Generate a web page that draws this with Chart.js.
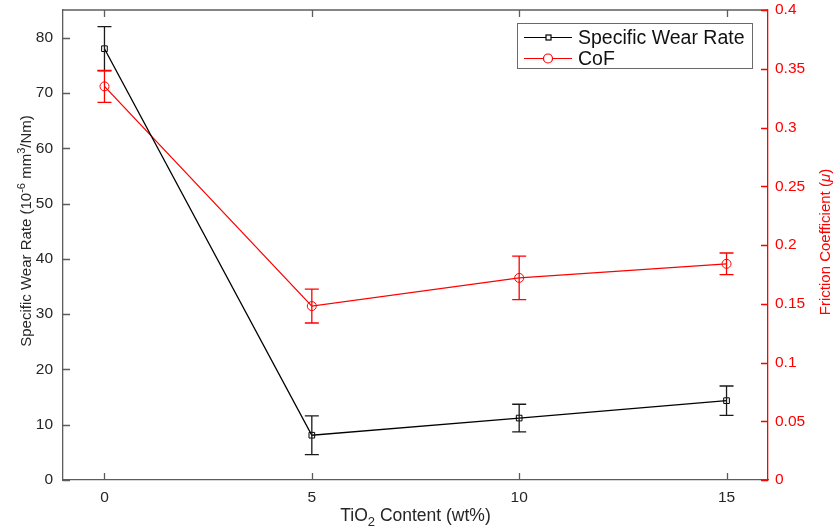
<!DOCTYPE html>
<html>
<head>
<meta charset="utf-8">
<script src="https://cdn.jsdelivr.net/npm/chart.js@4/dist/chart.umd.min.js"></script>
<style>
  html, body { margin: 0; padding: 0; background: #fff; }
  #wrap { width: 838px; height: 531px; position: relative; }
</style>
</head>
<body>
<div id="wrap"><canvas id="chart" width="838" height="531"></canvas></div>
<script>
// data
const tio2Content = [0, 5, 10, 15];
const wearRate = [78, 8.1, 11.2, 14.35];
const wearErr = [4, 3.5, 2.5, 2.65];
const cof = [0.335, 0.148, 0.172, 0.184];
const cofErr = [0.0137, 0.0144, 0.0185, 0.0092];

const xTicks = [0, 5, 10, 15];
const leftTicks = [0, 10, 20, 30, 40, 50, 60, 70, 80];
const rightTicks = [0, 0.05, 0.1, 0.15, 0.2, 0.25, 0.3, 0.35, 0.4];

const FONT = "'Liberation Sans', Arial, Helvetica, sans-serif";
const AXIS_GRAY = "#5c5c5c";
const RED = "#ff0000";

// 📏 error bars for both series
const errorBars = {
  id: "errorBars",
  afterDatasetsDraw(chart) {
    const ctx = chart.ctx;
    const x = chart.scales.x;
    const sets = [
      { vals: wearRate, errs: wearErr, scale: chart.scales.yL, color: "#1a1a1a" },
      { vals: cof, errs: cofErr, scale: chart.scales.yR, color: RED }
    ];
    ctx.save();
    ctx.lineWidth = 1.3;
    sets.forEach(s => {
      ctx.strokeStyle = s.color;
      s.vals.forEach((v, i) => {
        const px = x.getPixelForValue(tio2Content[i]);
        const top = s.scale.getPixelForValue(v + s.errs[i]);
        const bot = s.scale.getPixelForValue(v - s.errs[i]);
        ctx.beginPath();
        ctx.moveTo(px, top); ctx.lineTo(px, bot);
        ctx.moveTo(px - 7, top); ctx.lineTo(px + 7, top);
        ctx.moveTo(px - 7, bot); ctx.lineTo(px + 7, bot);
        ctx.stroke();
      });
    });
    ctx.restore();
  }
};

// 🧭 inward ticks, top border, legend box and axis titles
const frame = {
  id: "frame",
  afterDraw(chart) {
    const ctx = chart.ctx;
    const a = chart.chartArea;
    const { x, yL, yR } = chart.scales;
    ctx.save();

    // top border
    ctx.strokeStyle = AXIS_GRAY;
    ctx.lineWidth = 1.3;
    ctx.beginPath();
    ctx.moveTo(a.left, a.top); ctx.lineTo(a.right, a.top);
    ctx.stroke();

    // x ticks (bottom + top)
    ctx.beginPath();
    xTicks.forEach(t => {
      const px = Math.round(x.getPixelForValue(t)) + 0.5;
      ctx.moveTo(px, a.bottom); ctx.lineTo(px, a.bottom - 7);
      ctx.moveTo(px, a.top); ctx.lineTo(px, a.top + 7);
    });
    // left ticks
    leftTicks.forEach(t => {
      const py = Math.round(yL.getPixelForValue(t)) + 0.5;
      ctx.moveTo(a.left, py); ctx.lineTo(a.left + 7, py);
    });
    ctx.stroke();

    // right ticks
    ctx.strokeStyle = RED;
    ctx.beginPath();
    rightTicks.forEach(t => {
      const py = Math.round(yR.getPixelForValue(t)) + 0.5;
      ctx.moveTo(a.right, py); ctx.lineTo(a.right - 7, py);
    });
    ctx.stroke();

    // legend
    const lx = 517, ly = 23, lw = 235, lh = 45;
    ctx.fillStyle = "#fff";
    ctx.fillRect(lx, ly, lw, lh);
    ctx.strokeStyle = "#6a6a6a";
    ctx.lineWidth = 1;
    ctx.strokeRect(lx + 0.5, ly + 0.5, lw, lh);
    chart.data.datasets.forEach((ds, i) => {
      const cy = ly + 14.5 + i * 21;
      ctx.strokeStyle = ds.borderColor;
      ctx.lineWidth = 1.2;
      ctx.beginPath();
      ctx.moveTo(524, cy); ctx.lineTo(572, cy);
      ctx.stroke();
      ctx.fillStyle = "#fff";
      if (i === 0) {
        ctx.fillRect(546, cy - 2.5, 5, 5);
        ctx.strokeRect(546, cy - 2.5, 5, 5);
      } else {
        ctx.beginPath();
        ctx.arc(548, cy, 4.5, 0, Math.PI * 2);
        ctx.fill(); ctx.stroke();
      }
      ctx.fillStyle = "#111";
      ctx.font = "19.5px " + FONT;
      ctx.textAlign = "left";
      ctx.textBaseline = "middle";
      ctx.fillText(ds.label, 578, cy + 1);
    });

    // x title with subscript
    ctx.textBaseline = "alphabetic";
    ctx.fillStyle = "#262626";
    const parts = [["TiO", 17.5, 0], ["2", 13, 5], [" Content (wt%)", 17.5, 0]];
    drawRich(ctx, parts, (a.left + a.right) / 2, 521, 0);

    // left title with superscripts
    const lparts = [["Specific Wear Rate (10", 15, 0], ["-6", 11, -6], [" mm", 15, 0], ["3", 11, -6], ["/Nm)", 15, 0]];
    drawRich(ctx, lparts, 31, 231, -Math.PI / 2);

    // right title
    ctx.fillStyle = RED;
    const rparts = [["Friction Coefficient (", 15, 0], ["\u03bc", 15, 0, "italic "], [")", 15, 0]];
    drawRich(ctx, rparts, 830, 242, -Math.PI / 2);

    ctx.restore();
  }
};

function drawRich(ctx, parts, cx, cy, rot) {
  let total = 0;
  parts.forEach(p => {
    ctx.font = (p[3] || "") + p[1] + "px " + FONT;
    total += ctx.measureText(p[0]).width;
  });
  ctx.save();
  ctx.translate(cx, cy);
  ctx.rotate(rot);
  ctx.textAlign = "left";
  let pos = -total / 2;
  parts.forEach(p => {
    ctx.font = (p[3] || "") + p[1] + "px " + FONT;
    ctx.fillText(p[0], pos, p[2]);
    pos += ctx.measureText(p[0]).width;
  });
  ctx.restore();
}

const fixTicks = list => scale => { scale.ticks = list.map(v => ({ value: v })); };
const noPad = s => { s.paddingTop = 0; s.paddingBottom = 0; s.paddingLeft = 0; s.paddingRight = 0; };

new Chart(document.getElementById("chart"), {
  type: "line",
  data: {
    datasets: [
      {
        label: "Specific Wear Rate",
        data: tio2Content.map((x, i) => ({ x: x, y: wearRate[i] })),
        yAxisID: "yL",
        borderColor: "#000",
        borderWidth: 1.3,
        pointStyle: "rect",
        pointRadius: 4,
        pointBackgroundColor: "rgba(255,255,255,0)",
        pointBorderColor: "#000",
        pointBorderWidth: 1,
        tension: 0
      },
      {
        label: "CoF",
        data: tio2Content.map((x, i) => ({ x: x, y: cof[i] })),
        yAxisID: "yR",
        borderColor: RED,
        borderWidth: 1.3,
        pointStyle: "circle",
        pointRadius: 4.5,
        pointBackgroundColor: "rgba(255,255,255,0)",
        pointBorderColor: RED,
        pointBorderWidth: 1,
        tension: 0
      }
    ]
  },
  options: {
    responsive: false,
    animation: false,
    layout: { padding: { top: 10, left: 0, right: 0, bottom: 0 } },
    plugins: { legend: { display: false }, tooltip: { enabled: false } },
    scales: {
      x: {
        type: "linear",
        min: -1,
        max: 16,
        afterBuildTicks: fixTicks(xTicks),
        afterFit: s => { s.height = 51; noPad(s); },
        grid: { drawOnChartArea: false, drawTicks: false },
        border: { color: AXIS_GRAY, width: 1.3 },
        ticks: { color: "#262626", padding: 8, font: { family: FONT, size: 15.5 } }
      },
      yL: {
        position: "left",
        min: 0,
        max: 85,
        afterBuildTicks: fixTicks(leftTicks),
        afterFit: s => { s.width = 63; noPad(s); },
        grid: { drawOnChartArea: false, drawTicks: false },
        border: { color: AXIS_GRAY, width: 1.3 },
        ticks: { color: "#262626", padding: 10, font: { family: FONT, size: 15.5 } }
      },
      yR: {
        position: "right",
        min: 0,
        max: 0.4,
        afterBuildTicks: fixTicks(rightTicks),
        afterFit: s => { s.width = 70; noPad(s); },
        grid: { drawOnChartArea: false, drawTicks: false },
        border: { color: RED, width: 1.3 },
        ticks: {
          color: RED,
          padding: 7,
          font: { family: FONT, size: 15.5 },
          callback: v => String(+v.toFixed(2))
        }
      }
    }
  },
  plugins: [errorBars, frame]
});
</script>
</body>
</html>
